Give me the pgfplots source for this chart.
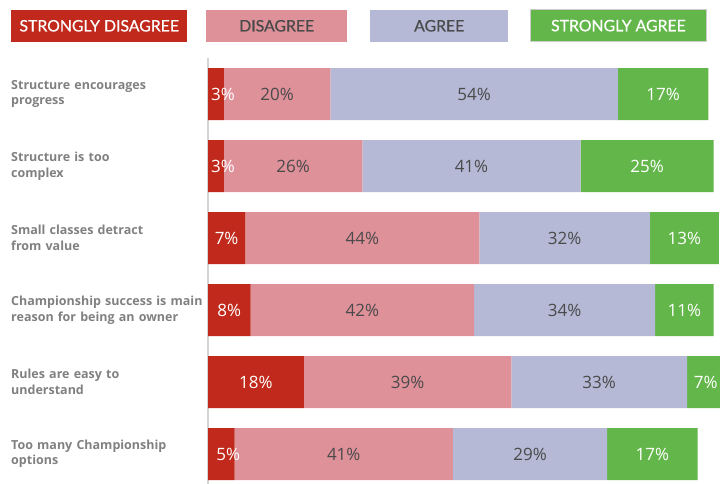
\documentclass[border=0pt]{standalone}
\usepackage{pgfplots}
\usepackage{pgfplotstable}
\pgfplotsset{compat=1.18}
\usepackage{fontspec}
\setmainfont{Open Sans}
\newfontfamily\legfont{Lato}[FakeBold=0.6]
\newfontfamily\catfont{Open Sans}
\definecolor{sdred}{HTML}{C0291B}
\definecolor{dpink}{HTML}{DF919A}
\definecolor{alav}{HTML}{B5B9D5}
\definecolor{sagreen}{HTML}{63B64A}
\definecolor{txtdark}{HTML}{4A4A4A}
\definecolor{catgray}{HTML}{808080}
\newcommand\valfont{\fontsize{17bp}{17bp}\selectfont}
\pgfplotstableread{
row sd d a sa
0 3 20 54 17
1 3 26 41 25
2 7 44 32 13
3 8 42 34 11
4 18 39 33 7
5 5 41 29 17
}\datatable
\pgfplotsset{
  seg/.style n args={2}{fill=#1, draw=none,
    point meta=explicit,
    nodes near coords={\pgfmathprintnumber[fixed,precision=0,assume math mode=true]{\pgfplotspointmeta}\%},
    every node near coord/.append style={text=#2, font=\valfont, inner sep=0pt},
  }
}
\begin{document}
\begin{tikzpicture}
\path[use as bounding box] (0,0) rectangle (720bp,484bp);
\begin{axis}[
  at={(208bp,0bp)}, anchor=south west,
  scale only axis, width=516.3bp, height=426bp,
  xbar stacked, bar width=52bp,
  xmin=0, xmax=97,
  ymin=-0.5, ymax=5.4167,
  y dir=reverse,
  axis x line=none,
  axis y line*=left,
  y axis line style={draw=black!17, line width=1.5bp},
  xtick=\empty,
  ytick={0,1,2,3,4,5},
  yticklabels={Structure encourages\\progress, Structure is too\\complex, Small classes detract\\from value, Championship success is main\\reason for being an owner, Rules are easy to\\understand, Too many Championship\\options},
  yticklabel style={anchor=west, xshift=-197bp, text width=195bp, align=left, inner sep=0pt, font=\catfont\bfseries\fontsize{12.5bp}{15.5bp}\selectfont, text=catgray},
  major tick length=0pt,
  clip=false,
]
\addplot[seg={sdred}{white},
  visualization depends on={\thisrow{sd} \as \vsd},
  every node near coord/.append style={xshift={ifthenelse(\vsd<6,7,0)*1bp}}]
  table[x=sd, y=row, meta=sd] {\datatable};
\addplot[seg={dpink}{txtdark}] table[x=d, y=row, meta=d] {\datatable};
\addplot[seg={alav}{txtdark}] table[x=a, y=row, meta=a] {\datatable};
\addplot[seg={sagreen}{white}] table[x=sa, y=row, meta=sa] {\datatable};
\end{axis}
\begin{scope}[every node/.style={anchor=south west, inner sep=0pt, font=\legfont\fontsize{15.8bp}{15.8bp}\selectfont}]
\node[fill=sdred, minimum width=176bp, minimum height=32bp, text=white] at (11bp,442bp) {STRONGLY DISAGREE};
\node[fill=dpink, minimum width=141bp, minimum height=32bp, text=txtdark] at (206bp,442bp) {DISAGREE};
\node[fill=alav, minimum width=138bp, minimum height=32bp, text=txtdark] at (370bp,442bp) {AGREE};
\node[fill=sagreen, draw=black!20, line width=0.8bp, minimum width=176bp, minimum height=32bp, text=white] at (530bp,442bp) {STRONGLY AGREE};
\end{scope}
\end{tikzpicture}
\end{document}
